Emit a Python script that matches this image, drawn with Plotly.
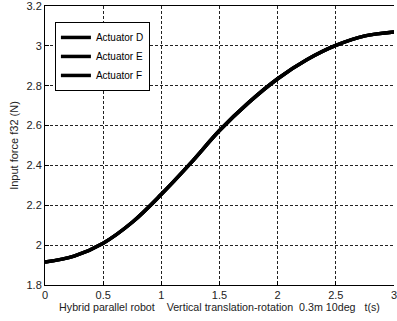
import plotly.graph_objects as go

# time samples (s) and input force f32 (N)
t = [0, 0.25, 0.5, 0.75, 1.0, 1.25, 1.5, 1.75, 2.0, 2.25, 2.5, 2.75, 3.0]
force_d = [1.915, 1.945, 2.01, 2.115, 2.255, 2.41, 2.575, 2.715, 2.835, 2.93, 3.002, 3.05, 3.07]
force_e = [1.915, 1.945, 2.01, 2.115, 2.255, 2.41, 2.575, 2.715, 2.835, 2.93, 3.002, 3.05, 3.07]
force_f = [1.915, 1.945, 2.01, 2.115, 2.255, 2.41, 2.575, 2.715, 2.835, 2.93, 3.002, 3.05, 3.07]
series_names = ["Actuator D", "Actuator E", "Actuator F"]

FONT = "Liberation Sans, Arial, sans-serif"

fig = go.Figure()
for name, vals in zip(series_names, [force_d, force_e, force_f]):
    fig.add_trace(go.Scatter(
        x=t, y=vals, name=name, mode="lines",
        line=dict(color="black", width=3.5, shape="spline"),
    ))

axis_common = dict(
    showgrid=True, gridcolor="#222", griddash="3px,2px", gridwidth=1,
    ticks="inside", ticklen=4, tickcolor="black", tickwidth=1,
    showline=True, linecolor="black", linewidth=1,
    zeroline=False, ticklabeloverflow="allow",
    tickfont=dict(family=FONT, size=11, color="#222"),
)

fig.update_xaxes(
    range=[0, 3], dtick=0.5, tick0=0, mirror=True, **axis_common,
    title=dict(text="Hybrid parallel robot    Vertical translation-rotation  0.3m 10deg   t(s)",
               font=dict(family=FONT, size=10.7, color="#222"), standoff=2),
)
fig.update_yaxes(
    range=[1.8, 3.2], dtick=0.2, tick0=1.8, **axis_common,
    title=dict(text="Input force f32 (N)", font=dict(family=FONT, size=11, color="#222"), standoff=5),
)

fig.update_layout(
    width=397, height=321,
    margin=dict(l=45, r=0, t=5, b=36),
    paper_bgcolor="white", plot_bgcolor="white",
    legend=dict(
        x=10 / 352, y=1 - 16 / 280, xanchor="left", yanchor="top",
        bgcolor="white", bordercolor="black", borderwidth=1,
        font=dict(family=FONT, size=10, color="black"),
        tracegroupgap=0, itemwidth=30,
    ),
    showlegend=True,
)

fig.write_html("out.html")
